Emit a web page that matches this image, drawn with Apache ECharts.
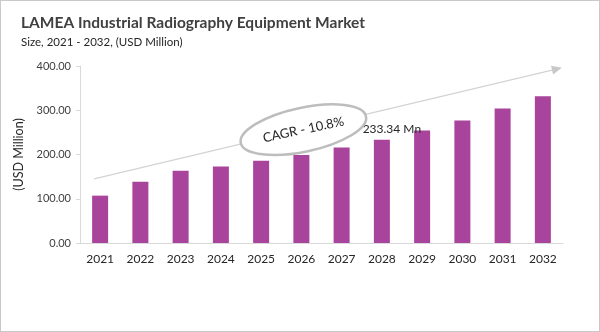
<!DOCTYPE html>
<html>
<head>
<meta charset="utf-8">
<style>
  html, body { margin: 0; padding: 0; background: #fff; }
  #chart { width: 598px; height: 330px; border: 1px solid #c9c9c9; }
</style>
<script src="https://cdn.jsdelivr.net/npm/echarts@6/dist/echarts.min.js"></script>
</head>
<body>
<div id="chart"></div>
<script>
// Market size by year (USD Million)
const years = ['2021', '2022', '2023', '2024', '2025', '2026', '2027', '2028', '2029', '2030', '2031', '2032'];
const marketSize = [107.0, 138.7, 163.0, 172.6, 186.0, 199.0, 215.6, 233.34, 254.0, 276.7, 303.8, 331.9];
const yTicks = [0, 100, 200, 300, 400];
const labelledYear = '2028';
const cagrText = 'CAGR - 10.8%';
// Trend arrow runs between these two values
const trendStart = 145;
const trendEnd = 396;

const FONT = 'Lato, "Open Sans", sans-serif';
const TEXT = '#404040';

const chart = echarts.init(document.getElementById('chart'));

const barData = marketSize.map((v, i) => {
  if (years[i] !== labelledYear) return v;
  return {
    value: v,
    label: {
      show: true,
      position: 'top',
      distance: 5,
      offset: [10, 0],
      formatter: p => p.value.toFixed(2) + ' Mn',
      color: '#262626',
      fontSize: 12,
      fontFamily: FONT
    }
  };
});

chart.setOption({
  animation: false,
  title: {
    text: 'LAMEA Industrial Radiography Equipment Market',
    subtext: 'Size, 2021 - 2032, (USD Million)',
    left: 15,
    top: 9,
    itemGap: 5,
    textStyle: { fontFamily: FONT, fontSize: 15.5, fontWeight: 'bold', color: TEXT },
    subtextStyle: { fontFamily: FONT, fontSize: 11.5, color: '#262626' }
  },
  grid: { left: 79, right: 36, top: 65, bottom: 88 },
  xAxis: {
    type: 'category',
    data: years,
    axisLine: { lineStyle: { color: '#d9d9d9', width: 1 } },
    axisTick: { show: false },
    axisLabel: { color: '#262626', fontSize: 12, fontFamily: FONT, margin: 10 }
  },
  yAxis: {
    type: 'value',
    min: yTicks[0],
    max: yTicks[yTicks.length - 1],
    interval: yTicks[1] - yTicks[0],
    name: '(USD Million)',
    nameLocation: 'middle',
    nameGap: 52,
    nameTextStyle: { color: '#262626', fontSize: 12.5, fontFamily: FONT },
    axisLine: { show: true, lineStyle: { color: '#d9d9d9' } },
    axisTick: { show: true, length: 4, lineStyle: { color: '#d9d9d9' } },
    splitLine: { show: false },
    axisLabel: {
      color: TEXT, fontSize: 11, fontFamily: FONT, margin: 9,
      formatter: v => v.toFixed(2)
    }
  },
  series: [{
    type: 'bar',
    data: barData,
    barWidth: 16,
    itemStyle: { color: '#A8449C' }
  }]
});

// Trend arrow and CAGR ellipse, placed from the axis scales
function drawAnnotations() {
  const first = chart.convertToPixel({ xAxisIndex: 0 }, years[0]);
  const last = chart.convertToPixel({ xAxisIndex: 0 }, years[years.length - 1]);
  const step = (last - first) / (years.length - 1);
  const x1 = first - step * 0.15;
  const x2 = last + step * 0.47;
  const y1 = chart.convertToPixel({ yAxisIndex: 0 }, trendStart);
  const y2 = chart.convertToPixel({ yAxisIndex: 0 }, trendEnd);
  const ang = Math.atan2(y2 - y1, x2 - x1);
  const head = 10, hw = 4.5;
  const bx = x2 - head * Math.cos(ang), by = y2 - head * Math.sin(ang);
  const px = -Math.sin(ang) * hw, py = Math.cos(ang) * hw;

  const cIdx = 5.05;
  const cx = first + step * cIdx;
  const cy = chart.convertToPixel({ yAxisIndex: 0 }, 256);
  const rot = 12 * Math.PI / 180;

  chart.setOption({
    graphic: [
      {
        type: 'line', z: 1,
        shape: { x1: x1, y1: y1, x2: bx, y2: by },
        style: { stroke: '#d3d3d3', lineWidth: 1.2 }
      },
      {
        type: 'polygon', z: 1,
        shape: { points: [[x2, y2], [bx + px, by + py], [bx - px, by - py]] },
        style: { fill: '#c8c8c8' }
      },
      {
        type: 'ellipse', z: 5,
        x: cx, y: cy, rotation: rot,
        shape: { cx: 0, cy: 0, rx: 64, ry: 22 },
        style: { fill: '#ffffff', stroke: '#bdbdbd', lineWidth: 2.5 }
      },
      {
        type: 'text', z: 6,
        x: cx, y: cy, rotation: rot,
        style: {
          text: cagrText, fill: '#262626', fontSize: 13, fontFamily: FONT,
          align: 'center', verticalAlign: 'middle'
        }
      }
    ]
  });
}
drawAnnotations();
</script>
</body>
</html>
